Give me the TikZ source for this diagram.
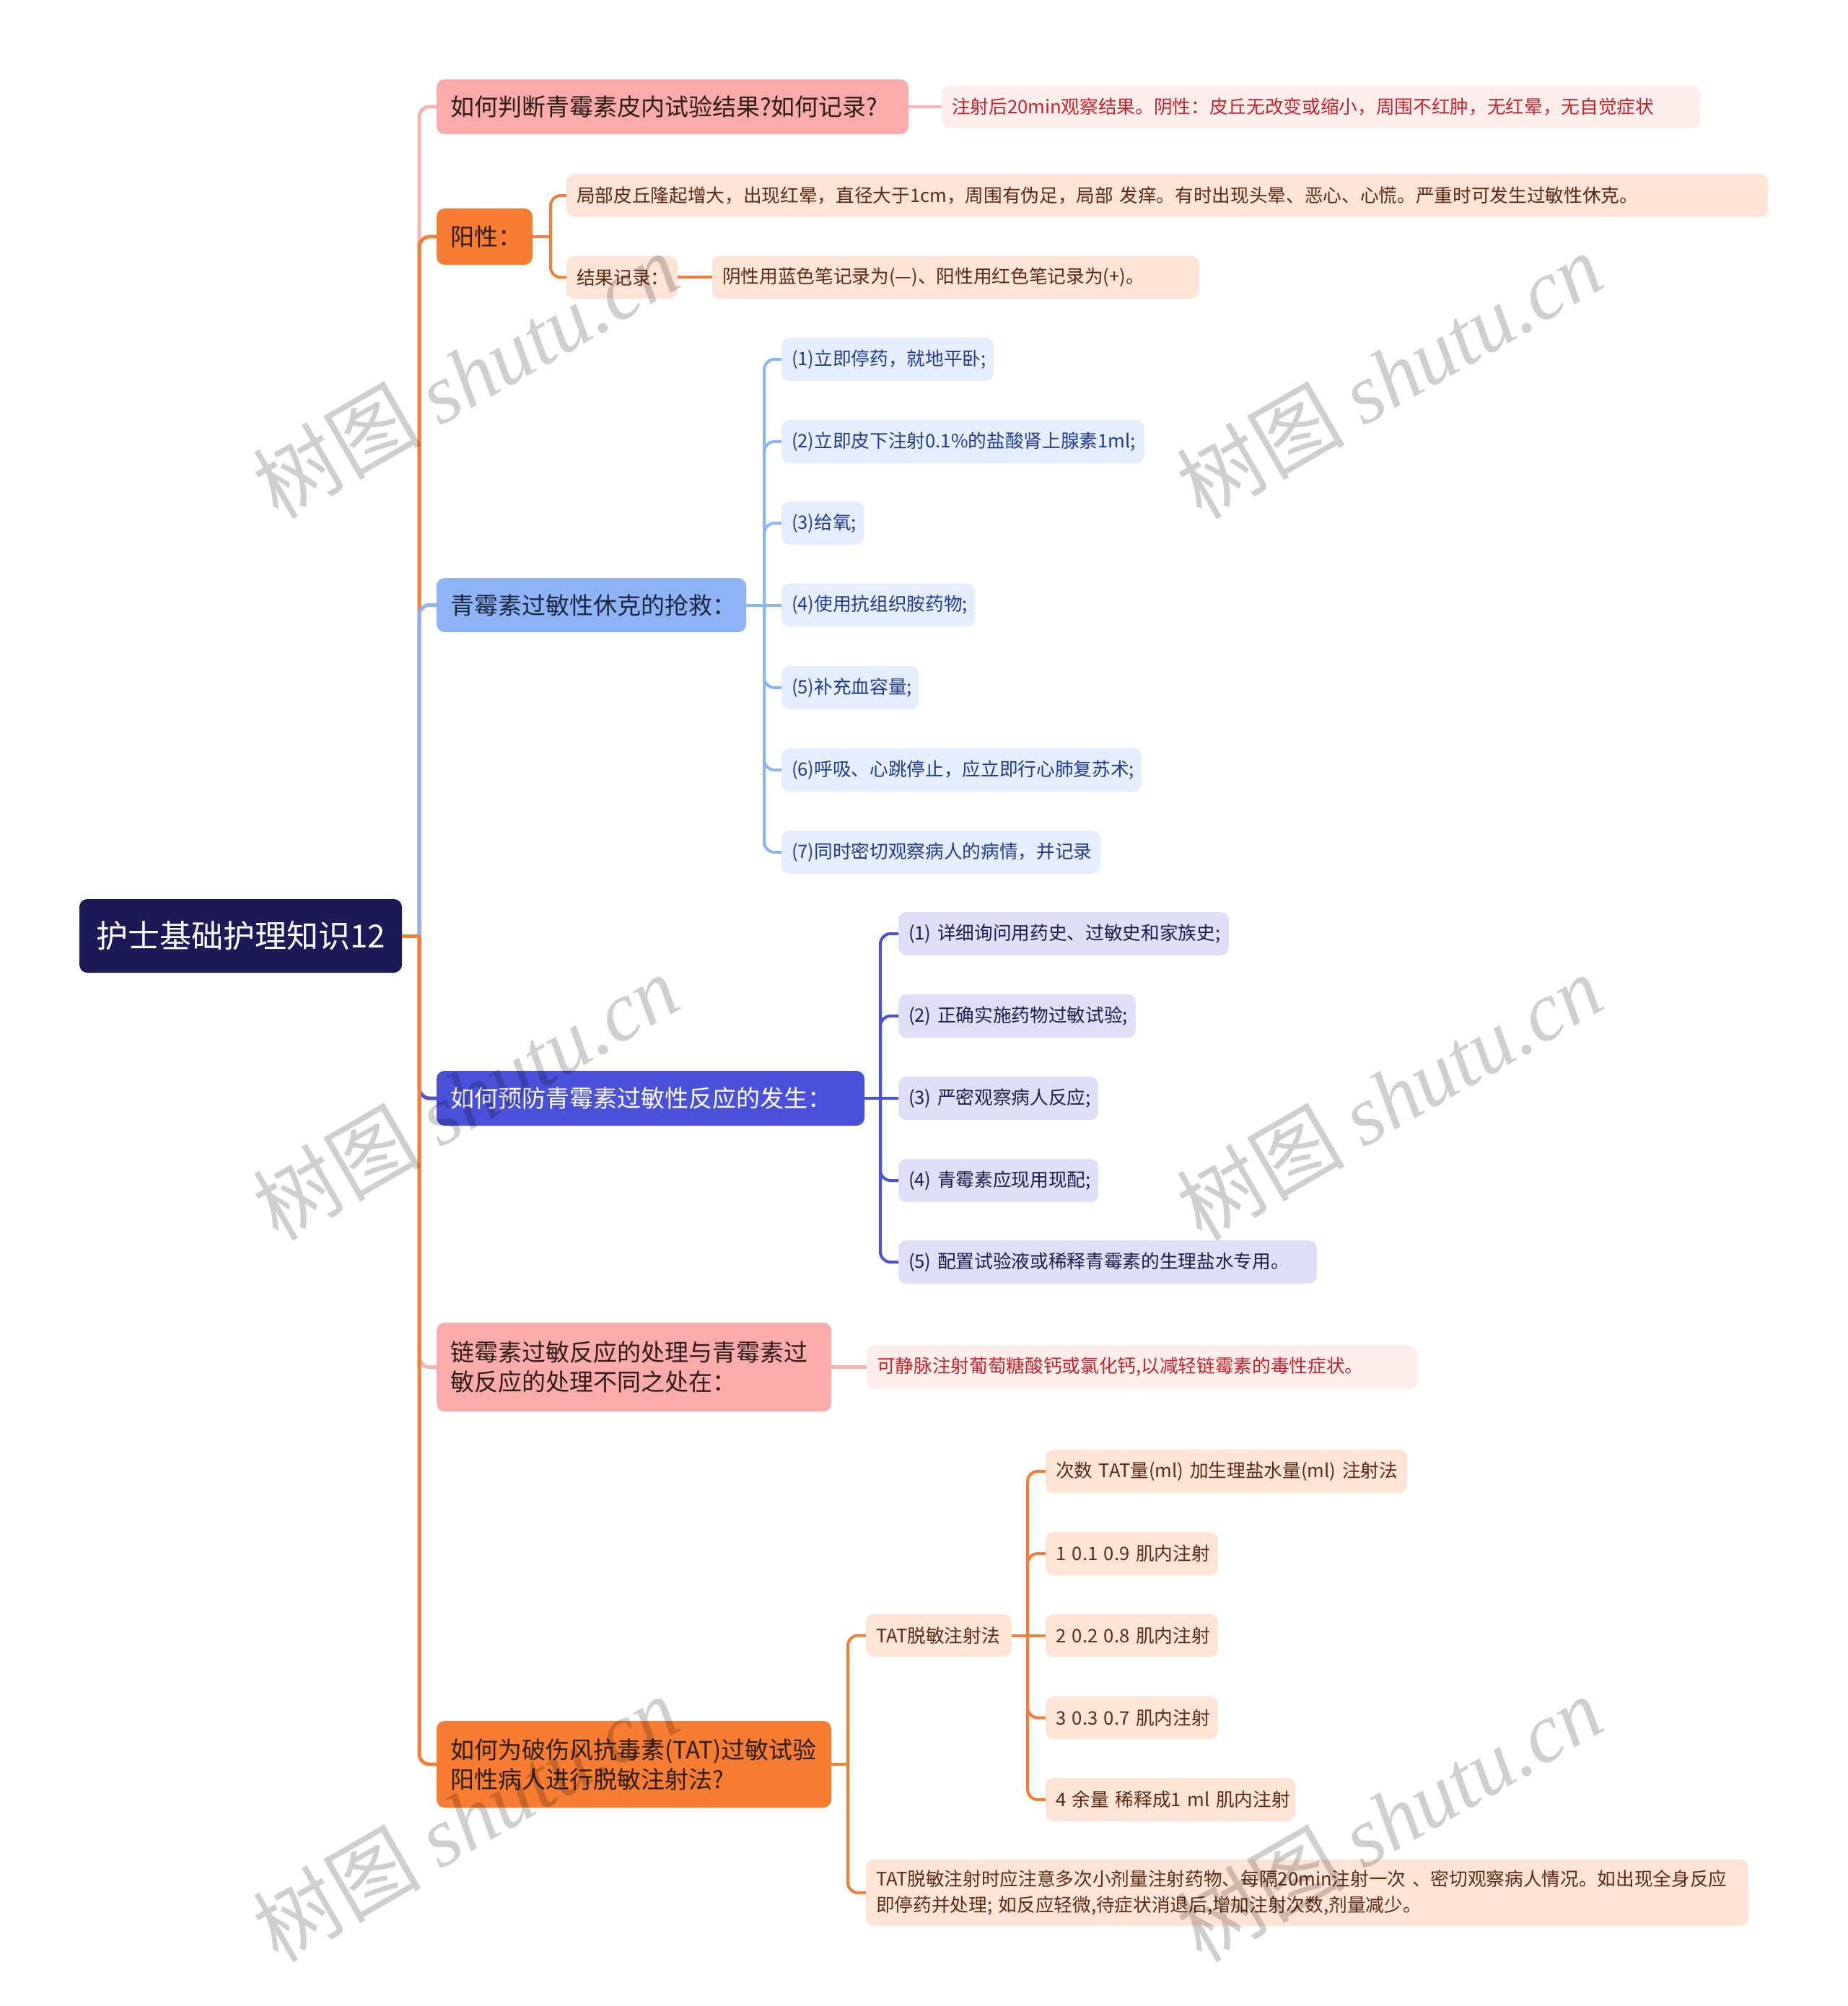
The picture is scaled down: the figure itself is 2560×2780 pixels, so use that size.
\documentclass[tikz,border=0pt]{standalone}
\usepackage{fontspec}
\setmainfont{Noto Sans CJK SC}
\newfontfamily\wmlat{Liberation Serif}
\newfontfamily\wmcjk{Noto Sans CJK SC}

\definecolor{rootc}{HTML}{1C1956}
\definecolor{pinkc}{HTML}{F9ACAB}
\definecolor{pinkln}{HTML}{F6B3B2}
\definecolor{orangec}{HTML}{F77D32}
\definecolor{orangeln}{HTML}{F37E38}
\definecolor{bluec}{HTML}{8EB4F6}
\definecolor{blueln}{HTML}{8DB3F4}
\definecolor{indc}{HTML}{4A50D8}
\definecolor{pinkleaf}{HTML}{FDEDED}
\definecolor{pinktxt}{HTML}{C1232B}
\definecolor{peach}{HTML}{FDE4D7}
\definecolor{peachtxt}{HTML}{5A2A12}
\definecolor{bluel}{HTML}{E6EEFD}
\definecolor{bluetxt}{HTML}{1F3C8C}
\definecolor{lav}{HTML}{DFE0F8}
\definecolor{lavtxt}{HTML}{1D1C4A}
\definecolor{darktxt}{HTML}{2E1C18}
\definecolor{bluedark}{HTML}{1B2642}

\tikzset{
  box/.style={rounded corners=3.3pt, outer sep=0pt, align=left},
  rootbox/.style={box, fill=rootc, text=white, align=center, font=\fontsize{13.2pt}{16pt}\selectfont},
  lone/.style={box, font=\fontsize{9.9pt}{12.3pt}\selectfont},
  pinkone/.style={lone, fill=pinkc, text=darktxt},
  orangeone/.style={lone, fill=orangec, text=darktxt},
  blueone/.style={lone, fill=bluec, text=bluedark},
  indone/.style={lone, fill=indc, text=white},
  ltwo/.style={box, font=\fontsize{7.7pt}{10.8pt}\selectfont},
  pinktwo/.style={ltwo, fill=pinkleaf, text=pinktxt},
  peachtwo/.style={ltwo, fill=peach, text=peachtxt},
  bluetwo/.style={ltwo, fill=bluel, text=bluetxt},
  lavtwo/.style={ltwo, fill=lav, text=lavtxt},
  trunk/.style={line width=1.5pt, rounded corners=4.2pt},
  link/.style={line width=1.2pt, rounded corners=4.2pt},
  wmark/.style={rotate=30, text=black, text opacity=0.19, font=\fontsize{35pt}{40pt}\selectfont}
}

\newcommand\mnode[8]{%
  \pgfmathsetmacro\mnW{(#5-#3)*0.3}%
  \pgfmathsetmacro\mnH{(#6-#4)*0.3}%
  \pgfmathsetmacro\mnT{(#5-#3-2*#7)*0.3}%
  \pgfmathsetmacro\mnP{#7*0.3}%
  \pgfmathsetmacro\mnY{(#4+#6)/2}%
  \node[#1, anchor=west, minimum width=\mnW pt, minimum height=\mnH pt,
        text width=\mnT pt, inner xsep=\mnP pt, inner ysep=0pt] (#2) at (#3,\mnY) {#8};}

\begin{document}
\begin{tikzpicture}[x=0.3pt, y=-0.3pt]
\useasboundingbox (0,0) rectangle (2560,2780);
\fill[white] (0,0) rectangle (2560,2780);

% root
\mnode{rootbox}{root}{110}{1246}{557}{1348}{22}{护士基础护理知识12}

% level 1
\mnode{pinkone}{A}{605}{110}{1259}{186}{19}{如何判断青霉素皮内试验结果?如何记录?}
\mnode{orangeone}{B}{605}{289}{738}{367}{19}{阳性：}
\mnode{blueone}{C}{605}{801}{1034}{876}{19}{青霉素过敏性休克的抢救：}
\mnode{indone}{D}{605}{1484}{1198}{1560}{19}{如何预防青霉素过敏性反应的发生：}
\mnode{pinkone}{E}{605}{1833}{1152}{1956}{19}{链霉素过敏反应的处理与青霉素过\\敏反应的处理不同之处在：}
\mnode{orangeone}{F}{605}{2385}{1152}{2505}{19}{如何为破伤风抗毒素(TAT)过敏试验\\阳性病人进行脱敏注射法?}

% level 2
\mnode{pinktwo}{A1}{1305}{119}{2356}{177}{14}{注射后20min观察结果。阴性：皮丘无改变或缩小，周围不红肿，无红晕，无自觉症状}
\mnode{peachtwo}{B1}{785}{241}{2450}{301}{14}{局部皮丘隆起增大，出现红晕，直径大于1cm，周围有伪足，局部~发痒。有时出现头晕、恶心、心慌。严重时可发生过敏性休克。}
\mnode{peachtwo}{B2}{785}{355}{939}{414}{14}{结果记录：}
\mnode{peachtwo}{B2a}{987}{355}{1662}{414}{14}{阴性用蓝色笔记录为(—)、阳性用红色笔记录为(+)。}

\mnode{bluetwo}{C1}{1083}{468}{1377}{528}{14}{(1)立即停药，就地平卧;}
\mnode{bluetwo}{C2}{1083}{582}{1586}{642}{14}{(2)立即皮下注射0.1\%的盐酸肾上腺素1ml;}
\mnode{bluetwo}{C3}{1083}{695}{1197}{755}{14}{(3)给氧;}
\mnode{bluetwo}{C4}{1083}{808.5}{1351}{868.5}{14}{(4)使用抗组织胺药物;}
\mnode{bluetwo}{C5}{1083}{923}{1273}{983}{14}{(5)补充血容量;}
\mnode{bluetwo}{C6}{1083}{1037}{1582}{1097}{14}{(6)呼吸、心跳停止，应立即行心肺复苏术;}
\mnode{bluetwo}{C7}{1083}{1151}{1525}{1211}{14}{(7)同时密切观察病人的病情，并记录}

\mnode{lavtwo}{D1}{1245}{1264}{1703}{1324}{14}{(1)~详细询问用药史、过敏史和家族史;}
\mnode{lavtwo}{D2}{1245}{1378}{1574}{1438}{14}{(2)~正确实施药物过敏试验;}
\mnode{lavtwo}{D3}{1245}{1492}{1522}{1552}{14}{(3)~严密观察病人反应;}
\mnode{lavtwo}{D4}{1245}{1606}{1522}{1666}{14}{(4)~青霉素应现用现配;}
\mnode{lavtwo}{D5}{1245}{1719}{1825}{1779}{14}{(5)~配置试验液或稀释青霉素的生理盐水专用。}

\mnode{pinktwo}{E1}{1201}{1864.5}{1964}{1924.5}{14}{可静脉注射葡萄糖酸钙或氯化钙,以减轻链霉素的毒性症状。}

\mnode{peachtwo}{F1}{1200}{2237}{1402}{2296}{14}{TAT脱敏注射法}
\mnode{peachtwo}{F2}{1200}{2577}{2423}{2669}{14}{TAT脱敏注射时应注意多次小剂量注射药物、每隔20min注射一次~、密切观察病人情况。如出现全身反应\\即停药并处理;~如反应轻微,待症状消退后,增加注射次数,剂量减少。}

\mnode{peachtwo}{G1}{1449}{2009}{1950}{2069}{14}{次数~TAT量(ml)~加生理盐水量(ml)~注射法}
\mnode{peachtwo}{G2}{1449}{2123}{1688}{2183}{14}{1~0.1~0.9~肌内注射}
\mnode{peachtwo}{G3}{1449}{2237}{1688}{2296}{14}{2~0.2~0.8~肌内注射}
\mnode{peachtwo}{G4}{1449}{2351}{1688}{2410}{14}{3~0.3~0.7~肌内注射}
\mnode{peachtwo}{G5}{1449}{2464}{1795}{2524}{14}{4~余量~稀释成1~ml~肌内注射}

% junctions
\coordinate (j0) at (581,1297);
\coordinate (bj) at (763,328);
\coordinate (cj) at (1059,838.5);
\coordinate (dj) at (1220,1522);
\coordinate (fj) at (1175,2445);
\coordinate (gj) at (1424,2266.5);

% root to level 1
\draw[trunk, pinkln] (j0) -- (j0 |- A) -- (A.west);
\draw[trunk, orangeln] (j0) -- (j0 |- B) -- (B.west);
\draw[trunk, blueln] (j0) -- (j0 |- C) -- (C.west);
\draw[trunk, indc] (j0) -- (j0 |- D) -- (D.west);
\draw[trunk, pinkln] (j0) -- (j0 |- E) -- (E.west);
\draw[trunk, orangeln] (j0) -- (j0 |- F) -- (F.west);
\draw[trunk, orangeln] (root.east) -- (j0);

% A
\draw[link, pinkln, line width=1.4pt] (A.east) -- (A1.west);
% B
\draw[link, orangeln] (B.east) -- (bj);
\foreach \n in {B1,B2} \draw[link, orangeln] (bj) -- (bj |- \n) -- (\n.west);
\draw[link, orangeln] (B2.east) -- (B2a.west);
% C
\draw[link, blueln] (C.east) -- (cj);
\foreach \n in {C1,C2,C3,C5,C6,C7} \draw[link, blueln] (cj) -- (cj |- \n) -- (\n.west);
\draw[link, blueln] (cj) -- (C4.west);
% D
\draw[link, indc] (D.east) -- (dj);
\foreach \n in {D1,D2,D4,D5} \draw[link, indc] (dj) -- (dj |- \n) -- (\n.west);
\draw[link, indc] (dj) -- (D3.west);
% E
\draw[link, pinkln, line width=1.4pt] (E.east) -- (E1.west);
% F
\draw[link, orangeln] (F.east) -- (fj);
\foreach \n in {F1,F2} \draw[link, orangeln] (fj) -- (fj |- \n) -- (\n.west);
\draw[link, orangeln] (F1.east) -- (gj);
\foreach \n in {G1,G2,G4,G5} \draw[link, orangeln] (gj) -- (gj |- \n) -- (\n.west);
\draw[link, orangeln] (gj) -- (G3.west);

% watermarks
\node[wmark] (wm1) at (645,520) {\wmcjk 树图 \wmlat\itshape shutu.cn};
\node[wmark] (wm2) at (1925,520) {\wmcjk 树图 \wmlat\itshape shutu.cn};
\node[wmark] (wm3) at (645,1520) {\wmcjk 树图 \wmlat\itshape shutu.cn};
\node[wmark] (wm4) at (1925,1520) {\wmcjk 树图 \wmlat\itshape shutu.cn};
\node[wmark] (wm5) at (645,2520) {\wmcjk 树图 \wmlat\itshape shutu.cn};
\node[wmark] (wm6) at (1925,2520) {\wmcjk 树图 \wmlat\itshape shutu.cn};
\end{tikzpicture}
\end{document}
